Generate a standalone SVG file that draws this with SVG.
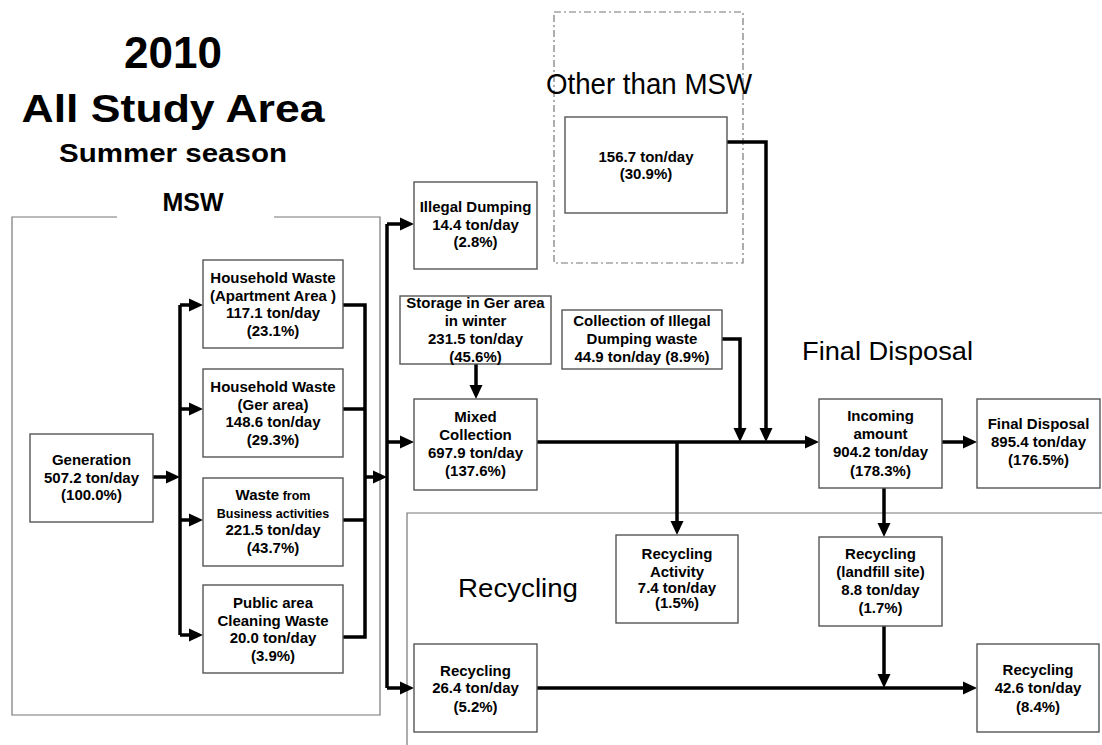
<svg xmlns="http://www.w3.org/2000/svg" width="1102" height="745" viewBox="0 0 1102 745">
  <style>
    .box { fill: #fff; stroke: #555; stroke-width: 1.4; }
    .frame { fill: none; stroke: #777; stroke-width: 1.2; }
    .dashframe { fill: none; stroke: #777; stroke-width: 1.2; stroke-dasharray: 7 3 2 3; }
    .t { font-family: "Liberation Sans", Arial, sans-serif; font-weight: bold; font-size: 15px; fill: #000; text-anchor: middle; }
    .small { font-size: 12.5px; }
    .title { font-family: "Liberation Sans", Arial, sans-serif; font-weight: bold; fill: #000; text-anchor: middle; }
    .label { font-family: "Liberation Sans", Arial, sans-serif; fill: #000; }
    .wire { fill: none; stroke: #000; stroke-width: 3.5; stroke-linejoin: miter; }
    .arrow { fill: none; stroke: #000; stroke-width: 3.5; stroke-linejoin: miter; marker-end: url(#ah); }
  </style>
  <defs>
    <marker id="ah" markerUnits="userSpaceOnUse" markerWidth="14" markerHeight="14" viewBox="0 0 14 14" refX="6" refY="7" orient="auto">
      <path d="M0,0.5 L14,7 L0,13.5 z" fill="#000"/>
    </marker>
  </defs>

  <!-- headings -->
  <g id="heading">
    <text class="title" x="173" y="68" font-size="44">2010</text>
    <text class="title" x="173" y="122" font-size="38" textLength="303" lengthAdjust="spacingAndGlyphs">All Study Area</text>
    <text class="title" x="173" y="162" font-size="26" textLength="228" lengthAdjust="spacingAndGlyphs">Summer season</text>
  </g>

  <!-- area frames -->
  <g id="frames">
    <path class="frame" d="M117,217 H12 V715 H380 V217 H274"/>
    <text class="title" x="193" y="211" font-size="25">MSW</text>
    <rect class="dashframe" x="554" y="12" width="189" height="251"/>
    <text class="label" x="649" y="94" font-size="29" text-anchor="middle" textLength="206" lengthAdjust="spacingAndGlyphs">Other than MSW</text>
    <path class="frame" d="M1102,513 H407 V745"/>
    <text class="label" x="458" y="597" font-size="26" textLength="120" lengthAdjust="spacingAndGlyphs">Recycling</text>
    <text class="label" x="802" y="360" font-size="25" textLength="171" lengthAdjust="spacingAndGlyphs">Final Disposal</text>
  </g>

  <!-- connectors -->
  <g id="connectors">
    <path class="arrow" d="M153,477 H172"/>
    <path class="wire" d="M180,305 V635"/>
    <path class="arrow" d="M180,305 H195"/>
    <path class="arrow" d="M180,409 H195"/>
    <path class="arrow" d="M180,520 H195"/>
    <path class="arrow" d="M180,635 H195"/>
    <path class="wire" d="M343,305 H365 V637 H343"/>
    <path class="wire" d="M343,409 H365"/>
    <path class="wire" d="M343,520 H365"/>
    <path class="arrow" d="M365,477 H379"/>
    <path class="wire" d="M387,224 V688"/>
    <path class="arrow" d="M387,224 H406"/>
    <path class="arrow" d="M387,442 H406"/>
    <path class="arrow" d="M387,688 H406"/>
    <path class="arrow" d="M476,364 V391"/>
    <path class="arrow" d="M537,442 H811"/>
    <path class="arrow" d="M677,442 V527"/>
    <path class="arrow" d="M722,339 H740 V434"/>
    <path class="arrow" d="M727,142 H766 V434"/>
    <path class="arrow" d="M942,442 H969"/>
    <path class="arrow" d="M884,488 V529"/>
    <path class="arrow" d="M884,626 V680"/>
    <path class="arrow" d="M537,688 H969"/>
  </g>

  <!-- nodes -->
  <g id="generation">
    <rect class="box" x="30" y="434" width="123" height="88"/>
    <text class="t" x="91.5" y="465">Generation</text>
    <text class="t" x="91.5" y="483">507.2 ton/day</text>
    <text class="t" x="91.5" y="500">(100.0%)</text>
  </g>
  <g id="household-apartment">
    <rect class="box" x="203" y="260" width="140" height="88"/>
    <text class="t" x="273" y="283">Household Waste</text>
    <text class="t" x="273" y="301">(Apartment Area )</text>
    <text class="t" x="273" y="318">117.1 ton/day</text>
    <text class="t" x="273" y="336">(23.1%)</text>
  </g>
  <g id="household-ger">
    <rect class="box" x="203" y="369" width="140" height="88"/>
    <text class="t" x="273" y="392">Household Waste</text>
    <text class="t" x="273" y="410">(Ger area)</text>
    <text class="t" x="273" y="427">148.6 ton/day</text>
    <text class="t" x="273" y="445">(29.3%)</text>
  </g>
  <g id="business-waste">
    <rect class="box" x="203" y="478" width="140" height="88"/>
    <text class="t" x="273" y="500">Waste<tspan class="small"> from</tspan></text>
    <text class="t small" x="273" y="518">Business activities</text>
    <text class="t" x="273" y="535">221.5 ton/day</text>
    <text class="t" x="273" y="553">(43.7%)</text>
  </g>
  <g id="public-cleaning">
    <rect class="box" x="203" y="585" width="140" height="88"/>
    <text class="t" x="273" y="608">Public area</text>
    <text class="t" x="273" y="626">Cleaning Waste</text>
    <text class="t" x="273" y="643">20.0 ton/day</text>
    <text class="t" x="273" y="661">(3.9%)</text>
  </g>
  <g id="illegal-dumping">
    <rect class="box" x="414" y="182" width="123" height="87"/>
    <text class="t" x="475.5" y="212">Illegal Dumping</text>
    <text class="t" x="475.5" y="230">14.4 ton/day</text>
    <text class="t" x="475.5" y="247">(2.8%)</text>
  </g>
  <g id="other-than-msw">
    <rect class="box" x="565" y="117" width="162" height="96"/>
    <text class="t" x="646" y="162">156.7 ton/day</text>
    <text class="t" x="646" y="179">(30.9%)</text>
  </g>
  <g id="storage-ger">
    <rect class="box" x="400" y="296" width="151" height="68"/>
    <text class="t" x="475.5" y="308">Storage in Ger area</text>
    <text class="t" x="475.5" y="326">in winter</text>
    <text class="t" x="475.5" y="344">231.5 ton/day</text>
    <text class="t" x="475.5" y="362">(45.6%)</text>
  </g>
  <g id="illegal-collection">
    <rect class="box" x="562" y="310" width="160" height="59"/>
    <text class="t" x="642" y="326">Collection of Illegal</text>
    <text class="t" x="642" y="344">Dumping waste</text>
    <text class="t" x="642" y="362">44.9 ton/day (8.9%)</text>
  </g>
  <g id="mixed-collection">
    <rect class="box" x="414" y="399" width="123" height="91"/>
    <text class="t" x="475.5" y="422">Mixed</text>
    <text class="t" x="475.5" y="440">Collection</text>
    <text class="t" x="475.5" y="458">697.9 ton/day</text>
    <text class="t" x="475.5" y="476">(137.6%)</text>
  </g>
  <g id="incoming-amount">
    <rect class="box" x="819" y="399" width="123" height="89"/>
    <text class="t" x="880.5" y="421">Incoming</text>
    <text class="t" x="880.5" y="439">amount</text>
    <text class="t" x="880.5" y="457">904.2 ton/day</text>
    <text class="t" x="880.5" y="476">(178.3%)</text>
  </g>
  <g id="final-disposal">
    <rect class="box" x="977" y="399" width="123" height="89"/>
    <text class="t" x="1038.5" y="429">Final Disposal</text>
    <text class="t" x="1038.5" y="447">895.4 ton/day</text>
    <text class="t" x="1038.5" y="465">(176.5%)</text>
  </g>
  <g id="recycling-activity">
    <rect class="box" x="616" y="535" width="122" height="88"/>
    <text class="t" x="677" y="559">Recycling</text>
    <text class="t" x="677" y="577">Activity</text>
    <text class="t" x="677" y="593">7.4 ton/day</text>
    <text class="t" x="677" y="608">(1.5%)</text>
  </g>
  <g id="recycling-landfill">
    <rect class="box" x="819" y="537" width="123" height="89"/>
    <text class="t" x="880.5" y="559">Recycling</text>
    <text class="t" x="880.5" y="577">(landfill site)</text>
    <text class="t" x="880.5" y="595">8.8 ton/day</text>
    <text class="t" x="880.5" y="613">(1.7%)</text>
  </g>
  <g id="recycling-collected">
    <rect class="box" x="414" y="644" width="123" height="88"/>
    <text class="t" x="475.5" y="676">Recycling</text>
    <text class="t" x="475.5" y="693">26.4 ton/day</text>
    <text class="t" x="475.5" y="712">(5.2%)</text>
  </g>
  <g id="recycling-total">
    <rect class="box" x="977" y="644" width="122" height="88"/>
    <text class="t" x="1038" y="675">Recycling</text>
    <text class="t" x="1038" y="693">42.6 ton/day</text>
    <text class="t" x="1038" y="712">(8.4%)</text>
  </g>
</svg>
